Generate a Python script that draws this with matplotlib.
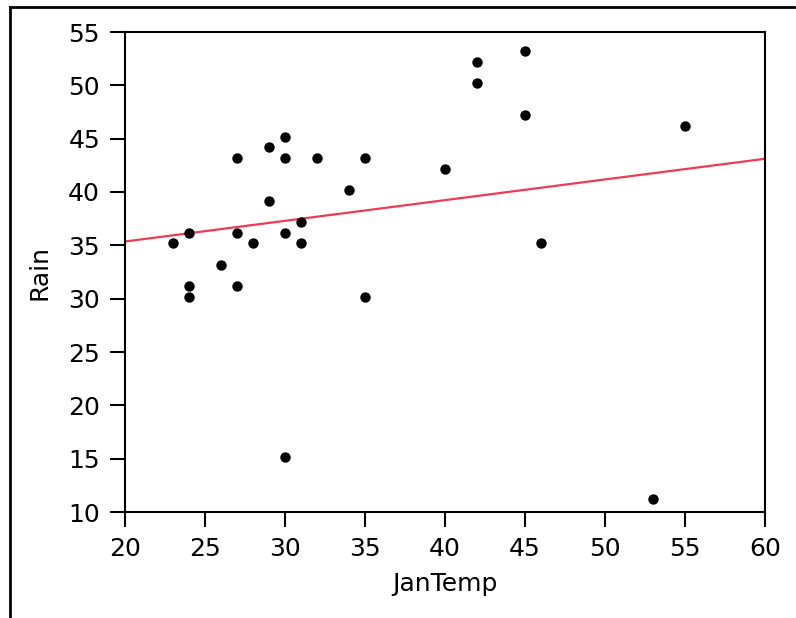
import numpy as np
import matplotlib
matplotlib.use("Agg")
import matplotlib.pyplot as plt
from matplotlib.lines import Line2D

jan_temp = [23, 24, 24, 24, 26, 27, 27, 27, 28, 29, 29, 30, 30, 30, 30,
            31, 31, 32, 34, 35, 35, 40, 42, 42, 45, 45, 46, 53, 55]
rain = [35.2, 36.2, 31.2, 30.2, 33.2, 43.2, 36.2, 31.2, 35.2, 44.2, 39.2, 45.2, 43.2, 36.2, 15.2,
        37.2, 35.2, 43.2, 40.2, 43.2, 30.2, 42.2, 52.2, 50.2, 53.2, 47.2, 35.2, 11.2, 46.2]
x_ticks = [20, 25, 30, 35, 40, 45, 50, 55, 60]
y_ticks = [10, 15, 20, 25, 30, 35, 40, 45, 50, 55]

plt.rcParams['font.family'] = ['DejaVu Sans']
fig = plt.figure(figsize=(7.96, 6.18), dpi=100)
ax = fig.add_axes([125/796, 1-512/618, 640/796, 480/618])

ax.scatter(jan_temp, rain, s=56, color='black', zorder=3, linewidths=0)
slope, intercept = np.polyfit(jan_temp, rain, 1)
xs = np.array([20, 60])
ax.plot(xs, intercept + slope*xs, color='#EE3B55', lw=1.6, zorder=2)

ax.set_xlim(20, 60)
ax.set_ylim(10, 55)
ax.set_xticks(x_ticks)
ax.set_yticks(y_ticks)
ax.tick_params(axis='both', labelsize=18, length=11, width=1.5, pad=7, direction='out')
for s in ax.spines.values():
    s.set_linewidth(1.5)
ax.set_xlabel('JanTemp', fontsize=18, labelpad=8)
ax.set_ylabel('Rain', fontsize=18, labelpad=12)

fig.add_artist(Line2D([10/796, 10/796], [0, 1-7/618], transform=fig.transFigure, color='black', lw=2))
fig.add_artist(Line2D([10/796, 794/796], [1-7/618, 1-7/618], transform=fig.transFigure, color='black', lw=2))

fig.savefig('out.png', dpi=100)
